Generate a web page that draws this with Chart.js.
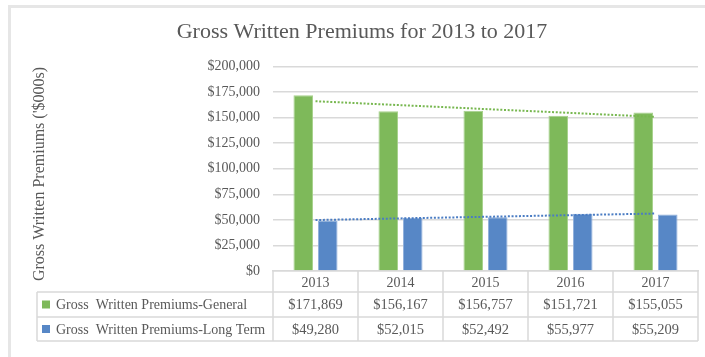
<!DOCTYPE html>
<html>
<head>
<meta charset="utf-8">
<script src="https://cdn.jsdelivr.net/npm/chart.js@4/dist/chart.umd.min.js"></script>
<style>
  body { margin: 0; background: #fff; }
  #wrap { position: relative; width: 705px; height: 357px; overflow: hidden; }
  #frame { position: absolute; left: 8px; top: 5px; width: 720px; height: 380px;
           border-left: 3px solid #e6e6e6; border-top: 3px solid #e6e6e6; }
  #myChart { position: absolute; left: 0; top: 0; }
</style>
</head>
<body>
<div id="wrap">
  <div id="frame"></div>
  <canvas id="myChart" width="705" height="357"></canvas>
</div>
<script>
var years = ['2013', '2014', '2015', '2016', '2017'];
var general = [171869, 156167, 156757, 151721, 155055];
var longTerm = [49280, 52015, 52492, 55977, 55209];
var seriesNames = ['Gross  Written Premiums-General', 'Gross  Written Premiums-Long Term'];
var yTitle = "Gross Written Premiums ('$000s)";
var greenColor = '#7eb95a';
var blueColor = '#5787c6';
var textColor = '#595959';
var lineColor = '#d9d9d9';
var serif = "'Liberation Serif', 'Times New Roman', serif";

// least squares trend, same as the linear trendline option in a spreadsheet
function trend(values) {
    var n = values.length, mx = (n - 1) / 2, my = 0;
    for (var i = 0; i < n; i++) my += values[i] / n;
    var num = 0, den = 0;
    for (i = 0; i < n; i++) {
        num += (i - mx) * (values[i] - my);
        den += (i - mx) * (i - mx);
    }
    var b = num / den;
    return values.map(function (v, i) { return my + b * (i - mx); });
}

function money(v) {
    return '$' + v.toLocaleString('en-US');
}

// data table under the plot: header row uses the x ticks, two value rows below
var dataTable = {
    id: 'dataTable',
    afterDraw: function (chart) {
        var ctx = chart.ctx;
        var x = chart.scales.x;
        var area = chart.chartArea;
        var half = (area.right - area.left) / years.length / 2;
        var tableLeft = 37;
        var y0 = area.bottom, y1 = y0 + 21, y2 = y1 + 25, y3 = y2 + 24;
        ctx.save();
        ctx.strokeStyle = lineColor;
        ctx.lineWidth = 1.5;
        ctx.beginPath();
        [y1, y2, y3].forEach(function (y) {
            ctx.moveTo(tableLeft, y);
            ctx.lineTo(area.right, y);
        });
        ctx.moveTo(tableLeft, y1);
        ctx.lineTo(tableLeft, y3);
        for (var i = 0; i <= years.length; i++) {
            var cx = area.left + i * half * 2;
            ctx.moveTo(cx, y0);
            ctx.lineTo(cx, y3);
        }
        ctx.stroke();

        ctx.font = '14.5px ' + serif;
        ctx.fillStyle = textColor;
        ctx.textBaseline = 'middle';
        ctx.textAlign = 'center';
        var rows = [general, longTerm];
        var mids = [(y1 + y2) / 2, (y2 + y3) / 2];
        rows.forEach(function (vals, r) {
            vals.forEach(function (v, i) {
                ctx.fillText(money(v), x.getPixelForValue(i), mids[r] + 1);
            });
        });

        ctx.font = '14px ' + serif;
        ctx.textAlign = 'left';
        [greenColor, blueColor].forEach(function (c, r) {
            ctx.fillStyle = c;
            ctx.fillRect(42, mids[r] - 4, 8, 8);
            ctx.fillStyle = textColor;
            ctx.fillText(seriesNames[r], 56, mids[r] + 1);
        });

        // value axis title, centred on plot plus table
        ctx.translate(40, 174);
        ctx.rotate(-Math.PI / 2);
        ctx.textAlign = 'center';
        ctx.font = '16px ' + serif;
        ctx.fillText(yTitle, 0, 0);
        ctx.restore();
    }
};

var ctx = document.getElementById('myChart').getContext('2d');
var myChart = new Chart(ctx, {
    type: 'bar',
    data: {
        labels: years,
        datasets: [{
            type: 'line',
            label: 'General trend',
            data: trend(general),
            borderColor: '#77b74f',
            borderWidth: 2,
            borderDash: [2, 1.7],
            pointRadius: 0,
            fill: false,
            order: 0
        }, {
            type: 'line',
            label: 'Long Term trend',
            data: trend(longTerm),
            borderColor: '#4a7cc3',
            borderWidth: 2,
            borderDash: [2, 1.7],
            pointRadius: 0,
            fill: false,
            order: 0
        }, {
            label: seriesNames[0],
            data: general,
            backgroundColor: greenColor,
            borderColor: '#a6d18b',
            borderWidth: 1,
            barPercentage: 0.8,
            categoryPercentage: 0.576,
            order: 1
        }, {
            label: seriesNames[1],
            data: longTerm,
            backgroundColor: blueColor,
            borderColor: '#8fb0dc',
            borderWidth: 1,
            barPercentage: 0.8,
            categoryPercentage: 0.576,
            order: 1
        }]
    },
    options: {
        responsive: false,
        animation: false,
        devicePixelRatio: 1,
        layout: { padding: { top: 7, left: 26, right: 7, bottom: 16 } },
        plugins: {
            legend: { display: false },
            tooltip: { enabled: false },
            title: {
                display: true,
                text: 'Gross Written Premiums for 2013 to 2017',
                color: textColor,
                font: { family: serif, size: 22, weight: 'normal' },
                padding: { top: 12, bottom: 21 }
            }
        },
        scales: {
            x: {
                grid: { display: false, drawTicks: false },
                border: { display: true, color: lineColor, width: 1.5 },
                ticks: { color: textColor, font: { family: serif, size: 14 }, padding: 4 },
                afterFit: function (scale) { scale.height = 70; }
            },
            y: {
                min: 0,
                max: 200000,
                grid: { color: lineColor, lineWidth: 1.5, drawTicks: false },
                border: { display: false },
                ticks: {
                    stepSize: 25000,
                    padding: 13,
                    color: textColor,
                    font: { family: serif, size: 14 },
                    callback: function (v) { return money(v); }
                },
                afterFit: function (scale) { scale.width = 247; }
            }
        }
    },
    plugins: [dataTable]
});
</script>
</body>
</html>
